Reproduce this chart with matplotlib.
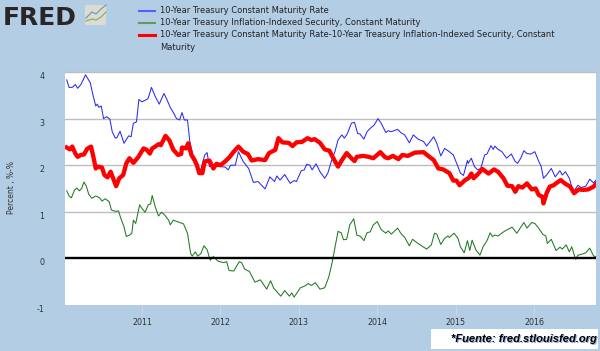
"""FRED chart: 10-year Treasury rate, TIPS rate and their spread, 2010-2016."""

import matplotlib
matplotlib.use("Agg")
import matplotlib.pyplot as plt
from matplotlib.lines import Line2D
from matplotlib.patches import FancyBboxPatch, Rectangle

BG = "#b3cde5"
GRID = "#bdbdbd"
TEXT = "#333333"

LEGEND_LABELS = [
    "10-Year Treasury Constant Maturity Rate",
    "10-Year Treasury Inflation-Indexed Security, Constant Maturity",
    "10-Year Treasury Constant Maturity Rate-10-Year Treasury Inflation-Indexed Security, Constant\nMaturity",
]
Y_TICKS = [-1, 0, 1, 2, 3, 4]
GRID_VALUES = [1, 2, 3, 4]
YEAR_TICKS = [2011, 2012, 2013, 2014, 2015, 2016]

# blue series: 10-year constant maturity
blue_x = [2010.04, 2010.07, 2010.11, 2010.15, 2010.18, 2010.22, 2010.28, 2010.34, 2010.37, 2010.41,
          2010.43, 2010.45, 2010.48, 2010.51, 2010.55, 2010.59, 2010.62, 2010.66, 2010.68, 2010.72,
          2010.77, 2010.83, 2010.86, 2010.89, 2010.93, 2010.96, 2011.00, 2011.06, 2011.08, 2011.12,
          2011.17, 2011.22, 2011.28, 2011.32, 2011.36, 2011.40, 2011.44, 2011.48, 2011.51, 2011.54,
          2011.58, 2011.61, 2011.65, 2011.68, 2011.71, 2011.75, 2011.80, 2011.83, 2011.86, 2011.91,
          2012.00, 2012.06, 2012.10, 2012.13, 2012.19, 2012.23, 2012.29, 2012.36, 2012.42, 2012.48,
          2012.57, 2012.63, 2012.69, 2012.72, 2012.76, 2012.82, 2012.89, 2012.94, 2012.97, 2013.03,
          2013.07, 2013.10, 2013.14, 2013.17, 2013.22, 2013.27, 2013.33, 2013.37, 2013.42, 2013.46,
          2013.50, 2013.53, 2013.55, 2013.58, 2013.62, 2013.67, 2013.71, 2013.75, 2013.78, 2013.83,
          2013.87, 2013.91, 2013.96, 2014.01, 2014.05, 2014.11, 2014.14, 2014.18, 2014.26, 2014.30,
          2014.35, 2014.41, 2014.46, 2014.52, 2014.59, 2014.63, 2014.72, 2014.76, 2014.81, 2014.86,
          2014.92, 2014.97, 2015.03, 2015.06, 2015.10, 2015.15, 2015.16, 2015.20, 2015.24, 2015.28,
          2015.32, 2015.37, 2015.40, 2015.45, 2015.48, 2015.50, 2015.54, 2015.59, 2015.65, 2015.71,
          2015.76, 2015.79, 2015.83, 2015.87, 2015.91, 2015.96, 2016.01, 2016.06, 2016.09, 2016.12,
          2016.16, 2016.22, 2016.27, 2016.33, 2016.36, 2016.40, 2016.45, 2016.48, 2016.51, 2016.56,
          2016.60, 2016.66, 2016.71, 2016.76, 2016.79]
blue_y = [3.83, 3.67, 3.67, 3.73, 3.65, 3.73, 3.94, 3.77, 3.54, 3.27,
          3.31, 3.24, 3.27, 3.00, 3.04, 2.99, 2.72, 2.58, 2.59, 2.73,
          2.47, 2.63, 2.61, 2.90, 2.93, 3.41, 3.36, 3.41, 3.44, 3.67,
          3.47, 3.31, 3.54, 3.40, 3.24, 3.13, 3.00, 2.97, 3.13, 2.97,
          2.97, 2.51, 2.20, 2.15, 1.93, 1.91, 2.22, 2.27, 1.97, 1.98,
          1.97, 1.96, 1.90, 2.00, 2.00, 2.29, 2.08, 1.93, 1.63, 1.65,
          1.49, 1.75, 1.65, 1.77, 1.68, 1.80, 1.61, 1.67, 1.65, 1.88,
          1.90, 2.02, 2.00, 1.90, 2.03, 1.86, 1.72, 1.83, 2.11, 2.29,
          2.54, 2.61, 2.65, 2.58, 2.68, 2.90, 2.92, 2.68, 2.67, 2.56,
          2.72, 2.79, 2.86, 3.00, 2.90, 2.70, 2.74, 2.72, 2.77, 2.70,
          2.65, 2.48, 2.65, 2.56, 2.51, 2.41, 2.61, 2.47, 2.20, 2.36,
          2.29, 2.22, 1.97, 1.83, 1.78, 2.10, 2.04, 2.15, 1.97, 1.90,
          1.93, 2.22, 2.24, 2.42, 2.34, 2.41, 2.34, 2.29, 2.15, 2.24,
          2.08, 2.04, 2.15, 2.31, 2.25, 2.24, 2.29, 2.08, 1.98, 1.72,
          1.79, 1.93, 1.75, 1.88, 1.79, 1.86, 1.72, 1.54, 1.45, 1.57,
          1.52, 1.55, 1.70, 1.62, 1.68]

# green series: 10-year inflation-indexed
green_x = [2010.04, 2010.07, 2010.10, 2010.14, 2010.17, 2010.20, 2010.23, 2010.26, 2010.29, 2010.32,
           2010.36, 2010.41, 2010.46, 2010.49, 2010.53, 2010.58, 2010.61, 2010.66, 2010.70, 2010.73,
           2010.77, 2010.80, 2010.84, 2010.87, 2010.89, 2010.92, 2010.97, 2011.00, 2011.04, 2011.08,
           2011.11, 2011.13, 2011.17, 2011.21, 2011.25, 2011.29, 2011.34, 2011.36, 2011.40, 2011.48,
           2011.53, 2011.58, 2011.62, 2011.64, 2011.68, 2011.71, 2011.75, 2011.79, 2011.83, 2011.87,
           2011.91, 2011.97, 2012.04, 2012.08, 2012.11, 2012.17, 2012.24, 2012.27, 2012.31, 2012.37,
           2012.44, 2012.51, 2012.59, 2012.64, 2012.68, 2012.77, 2012.82, 2012.88, 2012.91, 2012.94,
           2013.02, 2013.08, 2013.12, 2013.16, 2013.21, 2013.27, 2013.33, 2013.38, 2013.42, 2013.46,
           2013.50, 2013.54, 2013.57, 2013.61, 2013.65, 2013.70, 2013.74, 2013.79, 2013.83, 2013.87,
           2013.91, 2013.95, 2014.00, 2014.05, 2014.11, 2014.14, 2014.18, 2014.26, 2014.30, 2014.35,
           2014.41, 2014.45, 2014.52, 2014.63, 2014.69, 2014.73, 2014.76, 2014.81, 2014.86, 2014.90,
           2014.92, 2014.98, 2015.03, 2015.06, 2015.11, 2015.15, 2015.18, 2015.21, 2015.26, 2015.31,
           2015.35, 2015.40, 2015.44, 2015.47, 2015.50, 2015.54, 2015.57, 2015.63, 2015.72, 2015.78,
           2015.87, 2015.91, 2015.97, 2016.01, 2016.05, 2016.11, 2016.15, 2016.17, 2016.22, 2016.28,
           2016.33, 2016.36, 2016.41, 2016.45, 2016.48, 2016.53, 2016.56, 2016.61, 2016.66, 2016.71,
           2016.76, 2016.79]
green_y = [1.45, 1.34, 1.30, 1.47, 1.51, 1.45, 1.50, 1.64, 1.55, 1.38,
           1.29, 1.34, 1.30, 1.23, 1.28, 1.22, 1.04, 1.01, 1.02, 0.86,
           0.68, 0.47, 0.50, 0.54, 0.82, 0.75, 1.15, 1.07, 0.99, 1.15,
           1.17, 1.35, 1.10, 0.91, 0.99, 0.93, 0.82, 0.72, 0.82, 0.77,
           0.74, 0.54, 0.11, 0.05, 0.14, 0.05, 0.10, 0.27, 0.19, -0.04,
           0.04, -0.06, -0.09, -0.07, -0.26, -0.27, -0.07, -0.09, -0.23, -0.28,
           -0.51, -0.46, -0.66, -0.48, -0.64, -0.81, -0.69, -0.81, -0.74, -0.83,
           -0.63, -0.59, -0.54, -0.58, -0.52, -0.66, -0.63, -0.41, -0.13, 0.23,
           0.58, 0.55, 0.40, 0.41, 0.72, 0.85, 0.50, 0.47, 0.38, 0.55,
           0.57, 0.72, 0.79, 0.62, 0.54, 0.59, 0.52, 0.65, 0.54, 0.45,
           0.27, 0.41, 0.32, 0.20, 0.29, 0.54, 0.52, 0.30, 0.43, 0.48,
           0.45, 0.54, 0.43, 0.25, 0.12, 0.38, 0.17, 0.39, 0.18, 0.07,
           0.25, 0.38, 0.55, 0.47, 0.50, 0.48, 0.52, 0.59, 0.67, 0.54,
           0.77, 0.65, 0.77, 0.75, 0.67, 0.52, 0.48, 0.32, 0.41, 0.17,
           0.24, 0.20, 0.29, 0.14, 0.25, -0.02, 0.07, 0.09, 0.12, 0.22,
           0.05, 0.04]

# red series: the spread between the two
red_x = [2010.04, 2010.08, 2010.11, 2010.15, 2010.18, 2010.22, 2010.26, 2010.30, 2010.35, 2010.38,
         2010.41, 2010.44, 2010.49, 2010.52, 2010.56, 2010.60, 2010.64, 2010.67, 2010.71, 2010.76,
         2010.80, 2010.84, 2010.89, 2010.95, 2011.02, 2011.06, 2011.10, 2011.13, 2011.17, 2011.21,
         2011.24, 2011.30, 2011.35, 2011.40, 2011.46, 2011.50, 2011.51, 2011.56, 2011.59, 2011.63,
         2011.67, 2011.70, 2011.73, 2011.77, 2011.80, 2011.86, 2011.91, 2011.95, 2012.00, 2012.06,
         2012.12, 2012.17, 2012.23, 2012.29, 2012.35, 2012.40, 2012.48, 2012.57, 2012.62, 2012.70,
         2012.74, 2012.79, 2012.87, 2012.92, 2012.97, 2013.04, 2013.11, 2013.16, 2013.20, 2013.27,
         2013.33, 2013.39, 2013.43, 2013.50, 2013.55, 2013.61, 2013.67, 2013.71, 2013.74, 2013.82,
         2013.89, 2013.95, 2014.04, 2014.10, 2014.14, 2014.20, 2014.27, 2014.32, 2014.39, 2014.48,
         2014.59, 2014.65, 2014.72, 2014.78, 2014.84, 2014.92, 2014.97, 2015.01, 2015.05, 2015.12,
         2015.17, 2015.20, 2015.23, 2015.29, 2015.34, 2015.42, 2015.49, 2015.54, 2015.61, 2015.66,
         2015.72, 2015.76, 2015.80, 2015.85, 2015.91, 2015.97, 2016.02, 2016.06, 2016.11, 2016.12,
         2016.16, 2016.20, 2016.25, 2016.28, 2016.34, 2016.40, 2016.46, 2016.51, 2016.57, 2016.63,
         2016.69, 2016.76, 2016.79]
red_y = [2.38, 2.34, 2.40, 2.25, 2.18, 2.22, 2.23, 2.35, 2.40, 2.18,
         1.93, 1.97, 1.95, 1.79, 1.74, 1.86, 1.68, 1.55, 1.72, 1.79,
         2.04, 2.15, 2.05, 2.17, 2.36, 2.33, 2.25, 2.36, 2.40, 2.45,
         2.43, 2.63, 2.53, 2.33, 2.22, 2.24, 2.38, 2.36, 2.47, 2.22,
         2.11, 2.00, 1.83, 1.83, 2.08, 2.10, 1.93, 2.03, 2.00, 2.08,
         2.18, 2.29, 2.40, 2.29, 2.24, 2.10, 2.13, 2.11, 2.26, 2.33,
         2.58, 2.49, 2.48, 2.41, 2.49, 2.50, 2.58, 2.54, 2.56, 2.48,
         2.34, 2.31, 2.18, 1.97, 2.11, 2.26, 2.15, 2.09, 2.18, 2.20,
         2.18, 2.15, 2.28, 2.17, 2.15, 2.20, 2.13, 2.22, 2.20, 2.27,
         2.28, 2.20, 2.11, 1.93, 1.91, 1.83, 1.67, 1.67, 1.57, 1.68,
         1.73, 1.82, 1.72, 1.82, 1.92, 1.82, 1.91, 1.86, 1.72, 1.56,
         1.55, 1.43, 1.55, 1.52, 1.61, 1.48, 1.50, 1.36, 1.32, 1.18,
         1.40, 1.54, 1.57, 1.61, 1.68, 1.60, 1.54, 1.40, 1.48, 1.47,
         1.48, 1.54, 1.60]

W, H = 600, 351


def px(x, y):
    """Figure fraction for a pixel position measured from the top left."""
    return x / W, 1 - y / H


fig = plt.figure(figsize=(6.0, 3.51), dpi=100, facecolor=BG)
ax = fig.add_axes([65 / W, (H - 305) / H, 531 / W, 233 / H], facecolor="white")

for v in GRID_VALUES:
    ax.axhline(v, color=GRID, lw=1.0, clip_on=False, zorder=1)

ax.plot(blue_x, blue_y, color="#2a2af0", lw=0.75, zorder=2)
ax.plot(green_x, green_y, color="#1f7a1f", lw=0.75, zorder=2)
ax.axhline(0, color="black", lw=1.7, zorder=3)
ax.plot(red_x, red_y, color="#ff0000", lw=3.1, zorder=4)

ax.set_xlim(2010.018, 2016.79)
ax.set_ylim(-1, 4)
for s in ax.spines.values():
    s.set_visible(False)

ax.set_xticks(YEAR_TICKS)
ax.set_xticklabels([str(y) for y in YEAR_TICKS])
ax.set_yticks(Y_TICKS)
ax.set_yticklabels([str(y) for y in Y_TICKS])
ax.tick_params(axis="x", length=7, width=0.8, color="#c9d9e9", labelsize=5.7,
               labelcolor=TEXT, pad=2.5)
ax.tick_params(axis="y", length=0, labelsize=5.7, labelcolor=TEXT, pad=15)
for t in ax.get_yticklabels():
    t.set_verticalalignment("top")

x, y = px(12, 188)
fig.text(x, y, "Percent , %-%", rotation=90, ha="center", va="center",
         fontsize=5.5, color=TEXT)

# legend, placed by hand as in the FRED layout
handle_colors = ["#5060ff", "#5f9a5f", "#ff0000"]
handle_widths = [1.5, 1.5, 2.2]
legend_rows = [11, 23, 35]
for label, c, lw, row in zip(LEGEND_LABELS, handle_colors, handle_widths, legend_rows):
    x0, y0 = px(139, row)
    x1, _ = px(155, row)
    fig.add_artist(Line2D([x0, x1], [y0, y0], color=c, lw=lw, transform=fig.transFigure))
    tx, ty = px(160, row - 5)
    fig.text(tx, ty, label, fontsize=6.02, color="#222222", va="top", ha="left", linespacing=1.55)

# FRED logo
x, y = px(3, 25)
fig.text(x, y, "FRED", fontsize=18, fontweight="bold", family="DejaVu Sans",
         color="#2a2526", va="baseline", ha="left")
x, y = px(85, 25)
icon = FancyBboxPatch((x, y), 21 / W, 20 / H, boxstyle="round,pad=0,rounding_size=0.004",
                      transform=fig.transFigure, facecolor="#dcdcd6", edgecolor="none")
fig.add_artist(icon)
fig.add_artist(Line2D([86 / W, 92 / W, 96 / W, 101 / W, 106 / W],
                      [1 - 18 / H, 1 - 12 / H, 1 - 14 / H, 1 - 9 / H, 1 - 5 / H],
                      color="#7f97aa", lw=0.9, transform=fig.transFigure))
fig.add_artist(Line2D([86 / W, 92 / W, 96 / W, 101 / W, 106 / W],
                      [1 - 21 / H, 1 - 19 / H, 1 - 20 / H, 1 - 17 / H, 1 - 12 / H],
                      color="#93ad62", lw=0.9, transform=fig.transFigure))

# source box
x, y = px(431, 349)
fig.add_artist(Rectangle((x, y), 167 / W, 20 / H, transform=fig.transFigure,
                         facecolor="white", edgecolor="none"))
x, y = px(597, 339)
fig.text(x + 0.0015, y - 0.002, "*Fuente: fred.stlouisfed.org", fontsize=8.0, fontweight="bold",
         style="italic", family="Liberation Sans", color="#8fa8d8", ha="right", va="center")
fig.text(x, y, "*Fuente: fred.stlouisfed.org", fontsize=8.0, fontweight="bold",
         style="italic", family="Liberation Sans", color="black", ha="right", va="center")

fig.savefig("out.png", dpi=100, facecolor=BG)
plt.close(fig)
